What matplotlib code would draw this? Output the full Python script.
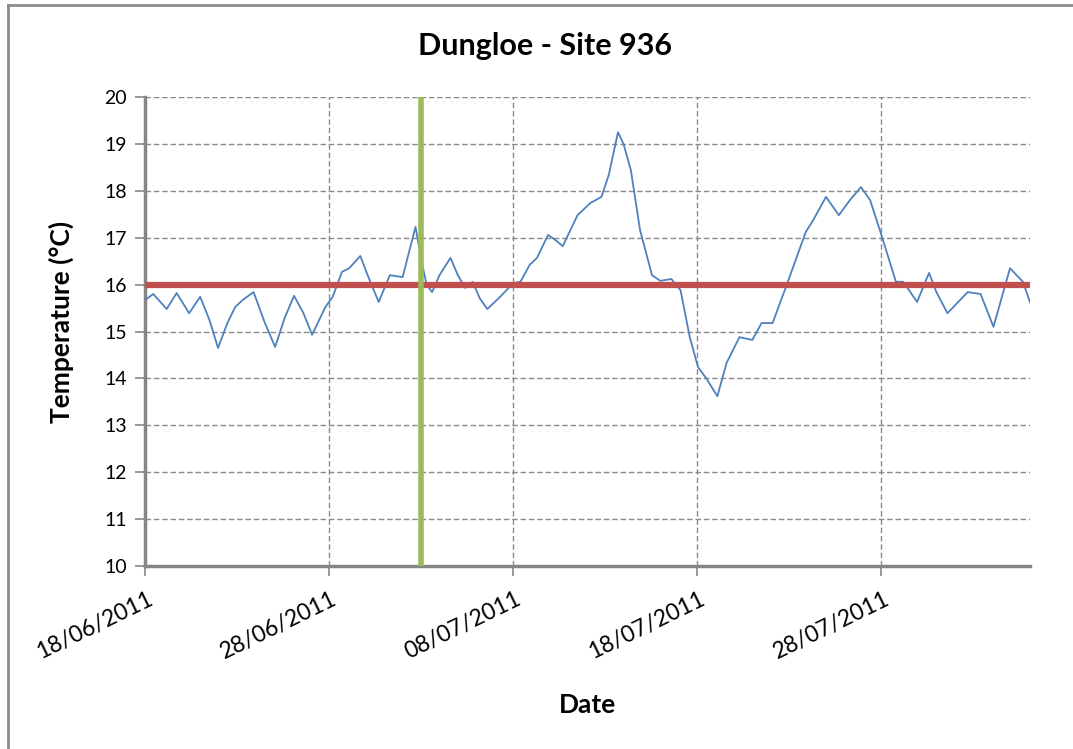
import numpy as np
import pandas as pd
import matplotlib
matplotlib.use("Agg")
import matplotlib.pyplot as plt
import matplotlib.dates as mdates
import matplotlib.transforms as mtransforms
from matplotlib.lines import Line2D

# %%
# DATA (days after 18/06/2011, temperature in deg C)

START = pd.Timestamp("2011-06-18")
END = pd.Timestamp("2011-08-05 02:00")

days = [0.0, 0.45, 1.18, 1.72, 2.4, 3.0, 3.5, 3.97, 4.5, 4.9, 5.3, 5.9, 6.5, 7.07,
        7.6, 8.1, 8.6, 9.08, 9.8, 10.2, 10.7, 11.1, 11.7, 12.2, 12.7, 13.3, 14.0,
        14.35, 14.7, 15.05, 15.3, 15.6, 16.0, 16.6, 17.0, 17.4, 17.8, 18.2, 18.6,
        19.3, 20.0, 20.4, 20.9, 21.3, 21.9, 22.3, 22.7, 23.5, 24.2, 24.8, 25.2,
        25.7, 26.0, 26.4, 26.9, 27.55, 28.0, 28.6, 29.1, 29.6, 30.05, 30.5, 31.1,
        31.6, 32.3, 33.0, 33.5, 34.1, 34.9, 35.9, 36.3, 37.0, 37.7, 38.3, 38.9,
        39.4, 40.05, 40.8, 41.2, 41.95, 42.6, 43.0, 43.6, 44.7, 45.4, 46.1, 47.0,
        47.7, 48.1]
temps = [15.67, 15.80, 15.48, 15.82, 15.39, 15.74, 15.25, 14.65, 15.2, 15.52,
         15.67, 15.84, 15.2, 14.67, 15.3, 15.76, 15.4, 14.93, 15.52, 15.74, 16.27,
         16.35, 16.61, 16.10, 15.63, 16.20, 16.16, 16.7, 17.23, 16.46, 16.0,
         15.84, 16.20, 16.57, 16.2, 15.93, 16.06, 15.7, 15.48, 15.74, 16.03,
         16.06, 16.42, 16.57, 17.06, 16.95, 16.82, 17.48, 17.74, 17.87, 18.34,
         19.25, 19.0, 18.44, 17.16, 16.20, 16.08, 16.12, 15.88, 14.88, 14.24,
         14.0, 13.62, 14.33, 14.88, 14.82, 15.18, 15.18, 16.03, 17.12, 17.37,
         17.87, 17.48, 17.8, 18.08, 17.80, 17.01, 16.06, 16.06, 15.63, 16.25,
         15.84, 15.39, 15.84, 15.80, 15.10, 16.35, 16.06, 15.61]

threshold = 16.0
marker_date = pd.Timestamp("2011-07-03")

tick_dates = pd.to_datetime(["2011-06-18", "2011-06-28", "2011-07-08",
                             "2011-07-18", "2011-07-28"])

# %%
plt.rcParams['font.family'] = ['Lato', 'DejaVu Sans']

times = START + pd.to_timedelta(np.array(days), unit="D")

fig = plt.figure(figsize=(10.73, 7.49), dpi=100)
ax = fig.add_axes([0.1351, 0.2443, 0.9599 - 0.1351, 0.8705 - 0.2443])

# outer chart border (only top and left edges are visible in the crop)
bx, by = 8 / 1073, 1 - 5 / 749
fig.lines.append(Line2D([bx, 1.0], [by, by], transform=fig.transFigure,
                        color="#8c8c8c", linewidth=2))
fig.lines.append(Line2D([bx, bx], [0.0, by], transform=fig.transFigure,
                        color="#8c8c8c", linewidth=2))

ax.plot(times, temps, color="#4F81BD", linewidth=1.3, zorder=3)
ax.axhline(threshold, color="#C0504D", linewidth=4.5, zorder=4)
ax.plot([marker_date, marker_date], [10, 20], color="#9BBB59", linewidth=4,
        zorder=5, solid_capstyle="butt")

ax.set_xlim(START, END)
ax.set_ylim(10, 20)
ax.set_yticks(range(10, 21))
ax.set_xticks(tick_dates)
ax.xaxis.set_major_formatter(mdates.DateFormatter("%d/%m/%Y"))

ax.grid(True, color="#8a8a8a", linestyle=(0, (4, 2)), linewidth=1)
ax.set_axisbelow(True)

for side in ["top", "right"]:
    ax.spines[side].set_visible(False)
for side in ["left", "bottom"]:
    ax.spines[side].set_color("#868686")
    ax.spines[side].set_linewidth(2.5)

ax.tick_params(axis="both", color="#868686", width=1.2, length=7)
ax.tick_params(axis="y", labelsize=14, pad=6)
ax.tick_params(axis="x", labelsize=16.5, pad=9)
shift = mtransforms.ScaledTranslation(2 / 100, 0, fig.dpi_scale_trans)
for lab in ax.get_xticklabels():
    lab.set_rotation(26)
    lab.set_ha("right")
    lab.set_rotation_mode("anchor")
    lab.set_transform(lab.get_transform() + shift)

fig.text(545 / 1073, 1 - 46 / 749, "Dungloe - Site 936", fontsize=22,
         fontweight="bold", ha="center", va="center")
ax.set_ylabel("Temperature (°C)", fontsize=19, fontweight="bold")
ax.yaxis.set_label_coords(-0.08, 0.52)
ax.set_xlabel("Date", fontsize=19, fontweight="bold")
ax.xaxis.set_label_coords(0.5, -0.27)

fig.savefig("out.png", dpi=100)
